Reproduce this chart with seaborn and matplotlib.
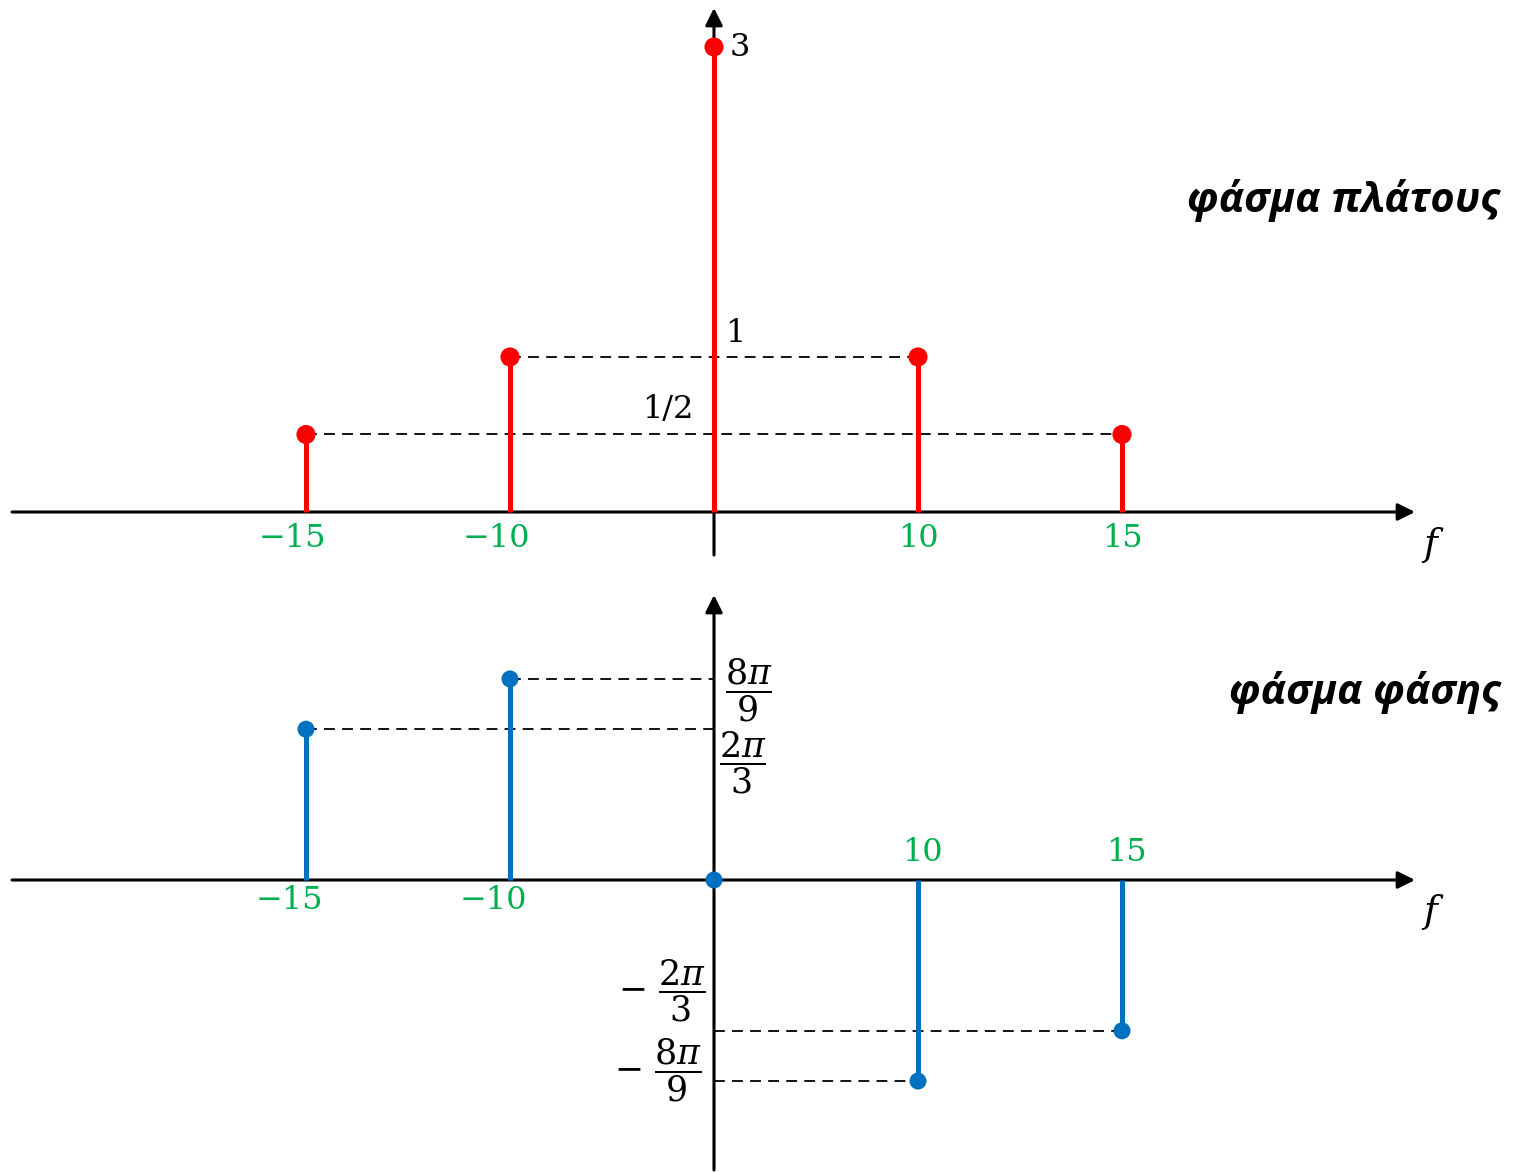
import numpy as np
import pandas as pd
import seaborn as sns
import matplotlib
matplotlib.use("Agg")
import matplotlib.pyplot as plt

# ---------------- data ----------------
freqs = [-15, -10, 0, 10, 15]
amplitude = [0.5, 1, 3, 1, 0.5]
phase = [2 * np.pi / 3, 8 * np.pi / 9, 0.0, -8 * np.pi / 9, -2 * np.pi / 3]
freq_labels = ["−15", "−10", "", "10", "15"]
amp_labels = ["1/2", "1", "3", "1", "1/2"]
phase_labels = [r"$\dfrac{2\pi}{3}$", r"$\dfrac{8\pi}{9}$", "",
                r"$-\ \dfrac{8\pi}{9}$", r"$-\ \dfrac{2\pi}{3}$"]
title_amp = "φάσμα πλάτους"
title_phase = "φάσμα φάσης"
axis_label = "f"

# the schematic places the spectral lines at evenly spaced (ordinal) positions
order = np.arange(len(freqs)) - freqs.index(0)
amp_df = pd.DataFrame({"f": freqs, "pos": order, "A": amplitude})
ph_df = pd.DataFrame({"f": freqs, "pos": order, "phi": phase})

# ---------------- style ----------------
sns.set_theme(style="white")
plt.rcParams["font.family"] = ["DejaVu Serif", "DejaVu Sans"]
plt.rcParams["mathtext.fontset"] = "dejavuserif"
plt.rcParams["text.color"] = "black"

RED = "#FF0000"
BLUE = "#0070C0"
GREEN = "#00B050"

W, H = 1513, 1173
fig = plt.figure(figsize=(W / 100, H / 100), dpi=100)

PXF = 204.0          # pixels per ordinal step
X0 = 714             # pixel of f = 0
xlim = (-X0 / PXF, (W - X0) / PXF)

# top panel: pixels 0..580, axis at 512, 155 px per unit
ax1 = fig.add_axes([0, 1 - 580 / H, 1, 580 / H])
ax1.set_xlim(*xlim)
ax1.set_ylim(-68 / 155, 512 / 155)
ax1.axis("off")

# bottom panel: pixels 580..1173, axis at 880, 72 px per radian
ax2 = fig.add_axes([0, 0, 1, 593 / H])
ax2.set_xlim(*xlim)
ax2.set_ylim(-293 / 72, 300 / 72)
ax2.axis("off")

arrow_kw = dict(arrowstyle="-|>", lw=2.2, color="black", mutation_scale=26,
                shrinkA=0, shrinkB=0)

# ----- axes arrows -----
for ax, ybot, ytop in [(ax1, -43 / 155, 504 / 155), (ax2, -290 / 72, 285 / 72)]:
    ax.annotate("", xy=((1415 - X0) / PXF, 0), xytext=((12 - X0) / PXF, 0),
                arrowprops=arrow_kw, zorder=1)
    ax.annotate("", xy=(0, ytop), xytext=(0, ybot), arrowprops=arrow_kw, zorder=1)

dash = (0, (6, 4))
pos_of = dict(zip(freqs, order))

# ----- amplitude spectrum -----
for f, a in zip(freqs, amplitude):
    if f > 0:
        ax1.hlines(a, pos_of[-f], pos_of[f], colors="black", lw=1.3,
                   linestyles=[dash], zorder=2)
ax1.vlines(amp_df["pos"], 0, amp_df["A"], colors=RED, lw=3.6, zorder=3)
sns.scatterplot(data=amp_df, x="pos", y="A", ax=ax1, color=RED, s=190,
                edgecolor="none", zorder=4, legend=False)
ax1.set_xlim(*xlim)
ax1.set_ylim(-68 / 155, 512 / 155)
ax1.axis("off")

# amplitude value labels (on the vertical axis)
ax1.annotate(amp_labels[2], xy=(0, amplitude[2]), xytext=(11, 0),
             textcoords="offset points", ha="left", va="center", fontsize=23)
ax1.annotate(amp_labels[3], xy=(0, amplitude[3]), xytext=(8, 17),
             textcoords="offset points", ha="left", va="center", fontsize=23)
ax1.annotate(amp_labels[4], xy=(0, amplitude[4]), xytext=(-33, 18),
             textcoords="offset points", ha="center", va="center", fontsize=23)

# frequency tick labels
for f, p, lab in zip(freqs, order, freq_labels):
    if not lab:
        continue
    dx = -10 if f < 0 else 0
    ax1.annotate(lab, xy=(p, 0), xytext=(dx, -19), textcoords="offset points",
                 ha="center", va="center", fontsize=23, color=GREEN)

ax1.text((1430 - X0) / PXF, -33 / 155, axis_label, fontsize=27, style="italic",
         ha="center", va="center")

# ----- phase spectrum -----
for f, p in zip(freqs, phase):
    if f != 0:
        ax2.hlines(p, min(pos_of[f], 0), max(pos_of[f], 0), colors="black",
                   lw=1.3, linestyles=[dash], zorder=2)
ax2.vlines(ph_df["pos"], 0, ph_df["phi"], colors=BLUE, lw=3.6, zorder=3)
sns.scatterplot(data=ph_df, x="pos", y="phi", ax=ax2, color=BLUE, s=150,
                edgecolor="none", zorder=4, legend=False)
ax2.set_xlim(*xlim)
ax2.set_ylim(-293 / 72, 300 / 72)
ax2.axis("off")

# phase value labels
ax2.annotate(phase_labels[1], xy=(0, phase[1]), xytext=(25, -8),
             textcoords="offset points", ha="center", va="center", fontsize=25)
ax2.annotate(phase_labels[0], xy=(0, phase[0]), xytext=(21, 0),
             textcoords="offset points", ha="center", va="top", fontsize=25)
ax2.annotate(phase_labels[4], xy=(0, phase[4]), xytext=(-6, 5),
             textcoords="offset points", ha="right", va="bottom", fontsize=25)
ax2.annotate(phase_labels[3], xy=(0, phase[3]), xytext=(-9, 8),
             textcoords="offset points", ha="right", va="center", fontsize=25)

for f, p, lab in zip(freqs, order, freq_labels):
    if not lab:
        continue
    if f < 0:
        dx, dy = -12, -15
    else:
        dx, dy = 3, 20
    ax2.annotate(lab, xy=(p, 0), xytext=(dx, dy), textcoords="offset points",
                 ha="center", va="center", fontsize=23, color=GREEN)

ax2.text((1430 - X0) / PXF, -32 / 72, axis_label, fontsize=27, style="italic",
         ha="center", va="center")

# ----- titles -----
title_font = ["Open Sans", "DejaVu Sans"]
fig.text(1500 / W, 1 - 200 / H, title_amp, family=title_font, fontsize=30,
         weight="bold", style="italic", ha="right", va="center")
fig.text(1500 / W, 1 - 693 / H, title_phase, family=title_font, fontsize=30,
         weight="bold", style="italic", ha="right", va="center")

fig.savefig("out.png", dpi=100)
